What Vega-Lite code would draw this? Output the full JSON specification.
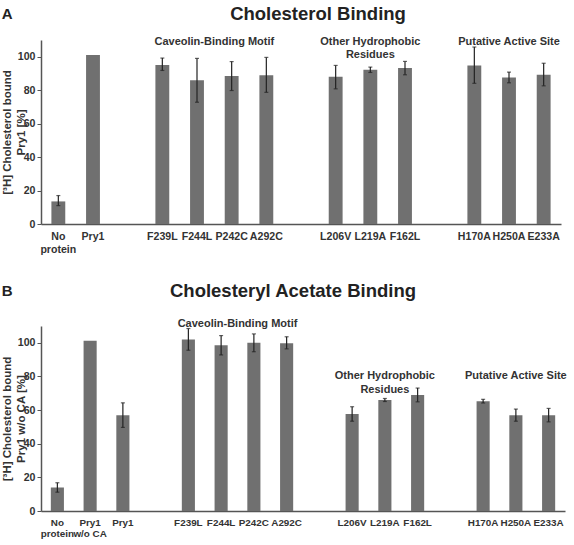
{
  "$schema": "https://vega.github.io/schema/vega-lite/v6.json",
  "background": "white",
  "padding": {"left": 1, "top": 4, "right": 2, "bottom": 4},
  "datasets": {
    "a": [
      {"name": "No protein", "value": 13.5, "lo": 11, "hi": 17},
      {"name": "Pry1", "value": 101, "lo": null, "hi": null},
      {"name": "F239L", "value": 95, "lo": 91.8, "hi": 99.2},
      {"name": "F244L", "value": 86, "lo": 72.8, "hi": 99},
      {"name": "P242C", "value": 88.5, "lo": 79.8, "hi": 97.1},
      {"name": "A292C", "value": 89, "lo": 78.7, "hi": 99.6},
      {"name": "L206V", "value": 88, "lo": 80.8, "hi": 94.8},
      {"name": "L219A", "value": 92.2, "lo": 90.6, "hi": 93.8},
      {"name": "F162L", "value": 93.2, "lo": 89.2, "hi": 97.2},
      {"name": "H170A", "value": 94.8, "lo": 84.1, "hi": 105.8},
      {"name": "H250A", "value": 87.6, "lo": 84.4, "hi": 90.8},
      {"name": "E233A", "value": 89.3, "lo": 82.6, "hi": 96.1}
    ],
    "b": [
      {"name": "No protein", "value": 14, "lo": 11.2, "hi": 16.8},
      {"name": "Pry1 w/o CA", "value": 101.3, "lo": null, "hi": null},
      {"name": "Pry1", "value": 57, "lo": 49.7, "hi": 64.3},
      {"name": "F239L", "value": 102, "lo": 95.6, "hi": 108.5},
      {"name": "F244L", "value": 98.5, "lo": 92.8, "hi": 104.3},
      {"name": "P242C", "value": 100, "lo": 94.7, "hi": 105.3},
      {"name": "A292C", "value": 99.8, "lo": 96.4, "hi": 103.6},
      {"name": "L206V", "value": 57.7, "lo": 53.4, "hi": 62},
      {"name": "L219A", "value": 66, "lo": 65.1, "hi": 66.9},
      {"name": "F162L", "value": 69, "lo": 64.9, "hi": 73.1},
      {"name": "H170A", "value": 65.3, "lo": 64.2, "hi": 66.4},
      {"name": "H250A", "value": 57, "lo": 53.4, "hi": 60.6},
      {"name": "E233A", "value": 57, "lo": 53, "hi": 61}
    ]
  },
  "config": {
    "font": "Liberation Sans",
    "view": {"stroke": null},
    "concat": {"spacing": 26},
    "axis": {
      "grid": false,
      "labelFont": "Liberation Sans",
      "labelFontWeight": "bold",
      "labelFontSize": 10.6,
      "labelColor": "#333333",
      "domainColor": "#555555",
      "domainWidth": 1.5,
      "tickColor": "#555555",
      "titleFont": "Liberation Sans",
      "titleFontWeight": "bold",
      "titleFontSize": 11.5,
      "titleColor": "#333333"
    },
    "axisX": {"ticks": false, "labelAngle": 0, "labelPadding": 7, "labelOverlap": false, "labelLineHeight": 13},
    "axisY": {"tickSize": 4, "labelPadding": 2, "titlePadding": -9, "values": [0, 20, 40, 60, 80, 100]},
    "title": {"font": "Liberation Sans", "fontWeight": "bold", "color": "#222222"}
  },
  "vconcat": [
    {
      "title": {"text": "A", "anchor": "start", "fontSize": 15, "frame": "bounds", "dy": 21},
      "vconcat": [
        {
          "title": {"text": "Cholesterol Binding", "fontSize": 18.5, "anchor": "middle", "frame": "group", "dx": 17, "offset": 13},
          "width": 520,
          "height": 184,
          "data": {"name": "a"},
          "encoding": {
            "x": {
              "field": "name",
              "type": "nominal",
              "title": null,
              "scale": {"domain": ["No protein", "Pry1", "_1", "F239L", "F244L", "P242C", "A292C", "_2", "L206V", "L219A", "F162L", "_3", "H170A", "H250A", "E233A"], "paddingInner": 0.6, "paddingOuter": 0.3},
              "axis": {"labelExpr": "datum.value == 'No protein' ? ['No', 'protein'] : indexof(datum.value, '_') == 0 ? '' : datum.value"}
            }
          },
          "layer": [
            {
              "mark": {"type": "bar", "color": "#707070"},
              "encoding": {
                "y": {"field": "value", "type": "quantitative", "scale": {"domain": [0, 107]}, "title": ["[³H] Cholesterol bound", "Pry1 [%]"]}
              }
            },
            {
              "transform": [{"filter": "isValid(datum.lo)"}],
              "mark": {"type": "rule", "color": "#222222", "strokeWidth": 1.2},
              "encoding": {
                "y": {"field": "lo", "type": "quantitative", "title": ["[³H] Cholesterol bound", "Pry1 [%]"]},
                "y2": {"field": "hi"}
              }
            },
            {
              "transform": [{"filter": "isValid(datum.lo)"}],
              "mark": {"type": "tick", "color": "#222222", "thickness": 1.2, "size": 4, "orient": "horizontal"},
              "encoding": {"y": {"field": "lo", "type": "quantitative", "title": ["[³H] Cholesterol bound", "Pry1 [%]"]}}
            },
            {
              "transform": [{"filter": "isValid(datum.hi)"}],
              "mark": {"type": "tick", "color": "#222222", "thickness": 1.2, "size": 4, "orient": "horizontal"},
              "encoding": {"y": {"field": "hi", "type": "quantitative", "title": ["[³H] Cholesterol bound", "Pry1 [%]"]}}
            },
            {
              "data": {"values": [{}]},
              "mark": {"type": "text", "text": "Caveolin-Binding Motif", "font": "Liberation Sans", "fontWeight": "bold", "fontSize": 11, "color": "#333333", "align": "center", "baseline": "alphabetic"},
              "encoding": {"x": {"datum": "F244L", "bandPosition": 1.75}, "y": {"datum": 107}}
            },
            {
              "data": {"values": [{}]},
              "mark": {"type": "text", "text": ["Other Hydrophobic", "Residues"], "lineHeight": 13, "font": "Liberation Sans", "fontWeight": "bold", "fontSize": 11, "color": "#333333", "align": "center", "baseline": "alphabetic"},
              "encoding": {"x": {"datum": "L219A"}, "y": {"datum": 107}}
            },
            {
              "data": {"values": [{}]},
              "mark": {"type": "text", "text": "Putative Active Site", "font": "Liberation Sans", "fontWeight": "bold", "fontSize": 11, "color": "#333333", "align": "center", "baseline": "alphabetic"},
              "encoding": {"x": {"datum": "H250A"}, "y": {"datum": 107}}
            }
          ]
        }
      ]
    },
    {
      "title": {"text": "B", "anchor": "start", "fontSize": 15, "frame": "bounds", "dy": 21},
      "vconcat": [
        {
          "title": {"text": "Cholesteryl Acetate Binding", "fontSize": 18.5, "anchor": "middle", "frame": "group", "dx": -10, "offset": 18},
          "width": 524,
          "height": 185,
          "data": {"name": "b"},
          "encoding": {
            "x": {
              "field": "name",
              "type": "nominal",
              "title": null,
              "scale": {"domain": ["No protein", "Pry1 w/o CA", "Pry1", "_1", "F239L", "F244L", "P242C", "A292C", "_2", "L206V", "L219A", "F162L", "_3", "H170A", "H250A", "E233A"], "paddingInner": 0.6, "paddingOuter": 0.3},
              "axis": {"labelFontSize": 9.9, "labelPadding": 6, "labelLineHeight": 11.5, "labelExpr": "datum.value == 'No protein' ? ['No', 'protein'] : datum.value == 'Pry1 w/o CA' ? ['Pry1', 'w/o CA'] : indexof(datum.value, '_') == 0 ? '' : datum.value"}
            }
          },
          "layer": [
            {
              "mark": {"type": "bar", "color": "#707070"},
              "encoding": {
                "y": {"field": "value", "type": "quantitative", "scale": {"domain": [0, 105]}, "title": ["[³H] Cholesterol bound", "Pry1 w/o CA [%]"]}
              }
            },
            {
              "transform": [{"filter": "isValid(datum.lo)"}],
              "mark": {"type": "rule", "color": "#222222", "strokeWidth": 1.2},
              "encoding": {
                "y": {"field": "lo", "type": "quantitative", "title": ["[³H] Cholesterol bound", "Pry1 w/o CA [%]"]},
                "y2": {"field": "hi"}
              }
            },
            {
              "transform": [{"filter": "isValid(datum.lo)"}],
              "mark": {"type": "tick", "color": "#222222", "thickness": 1.2, "size": 4, "orient": "horizontal"},
              "encoding": {"y": {"field": "lo", "type": "quantitative", "title": ["[³H] Cholesterol bound", "Pry1 w/o CA [%]"]}}
            },
            {
              "transform": [{"filter": "isValid(datum.hi)"}],
              "mark": {"type": "tick", "color": "#222222", "thickness": 1.2, "size": 4, "orient": "horizontal"},
              "encoding": {"y": {"field": "hi", "type": "quantitative", "title": ["[³H] Cholesterol bound", "Pry1 w/o CA [%]"]}}
            },
            {
              "data": {"values": [{}]},
              "mark": {"type": "text", "text": "Caveolin-Binding Motif", "font": "Liberation Sans", "fontWeight": "bold", "fontSize": 11, "color": "#333333", "align": "center", "baseline": "alphabetic"},
              "encoding": {"x": {"datum": "F244L", "bandPosition": 1.75}, "y": {"datum": 109.4}}
            },
            {
              "data": {"values": [{}]},
              "mark": {"type": "text", "text": ["Other Hydrophobic", "Residues"], "lineHeight": 14, "font": "Liberation Sans", "fontWeight": "bold", "fontSize": 11, "color": "#333333", "align": "center", "baseline": "alphabetic"},
              "encoding": {"x": {"datum": "L219A"}, "y": {"datum": 78.7}}
            },
            {
              "data": {"values": [{}]},
              "mark": {"type": "text", "text": "Putative Active Site", "font": "Liberation Sans", "fontWeight": "bold", "fontSize": 11, "color": "#333333", "align": "center", "baseline": "alphabetic"},
              "encoding": {"x": {"datum": "H250A"}, "y": {"datum": 78.7}}
            }
          ]
        }
      ]
    }
  ]
}
